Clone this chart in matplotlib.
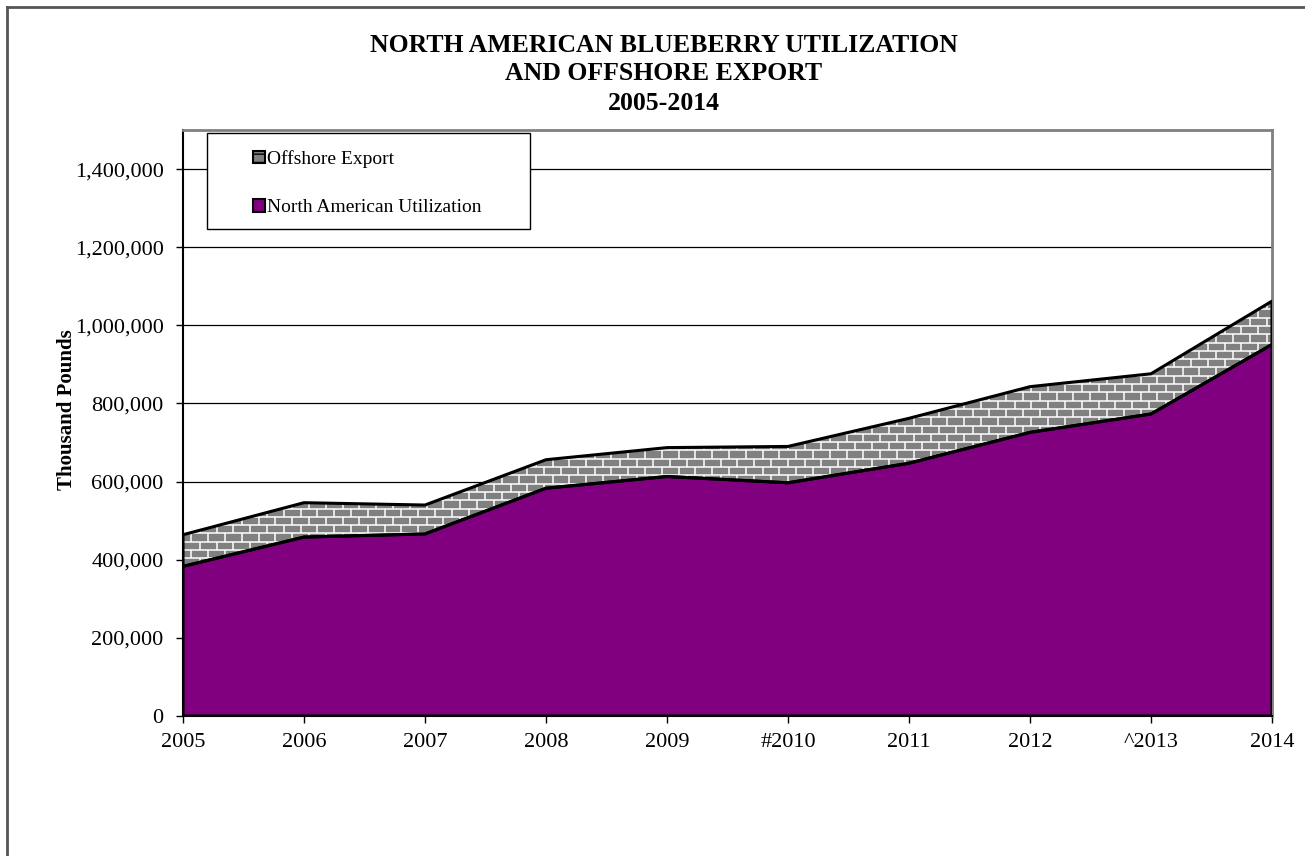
import numpy as np
import matplotlib
matplotlib.use('Agg')
import matplotlib.pyplot as plt
from matplotlib.collections import LineCollection
from matplotlib.lines import Line2D
from matplotlib.patches import Patch, Rectangle

# Data (thousand pounds)
years = ['2005', '2006', '2007', '2008', '2009', '#2010', '2011', '2012', '^2013', '2014']
na_utilization = [383000, 458000, 466000, 583000, 613000, 597000, 647000, 726000, 773000, 951000]
offshore_export = [81000, 88000, 74000, 73000, 74000, 93000, 115000, 117000, 103000, 111000]
y_ticks = [0, 200000, 400000, 600000, 800000, 1000000, 1200000, 1400000]
title_lines = ['NORTH AMERICAN BLUEBERRY UTILIZATION', 'AND OFFSHORE EXPORT', '2005-2014']

plt.rcParams['font.family'] = ['Liberation Serif', 'DejaVu Serif']

W, H = 1305, 856
fig = plt.figure(figsize=(W / 100, H / 100), dpi=100)
ax = fig.add_axes([183 / W, 1 - 716 / H, (1272 - 183) / W, (716 - 130) / H])
ax_w_px = 1272 - 183
ax_h_px = 716 - 130

x = np.arange(len(years))
na = np.array(na_utilization)
total = na + np.array(offshore_export)

purple = '#800080'
brick_grey = '#808080'

# North American utilization area
ax.fill_between(x, 0, na, facecolor=purple, edgecolor='none', zorder=2)

# Offshore export area with a brick pattern
band = ax.fill_between(x, na, total, facecolor=brick_grey, edgecolor='none', zorder=2)

row_h = 8.3 / ax_h_px
brick_w = 16.8 / ax_w_px
segs = []
n_rows = int(1 / row_h) + 2
for r in range(n_rows):
    y0 = r * row_h
    y1 = y0 + row_h
    segs.append([(0, y0), (1, y0)])
    off = 0 if r % 2 == 0 else brick_w / 2
    xv = off
    while xv <= 1:
        segs.append([(xv, y0), (xv, y1)])
        xv += brick_w
bricks = LineCollection(segs, colors='white', linewidths=1.1, transform=ax.transAxes, zorder=3)
bricks.set_clip_path(band.get_paths()[0], ax.transData)
ax.add_collection(bricks)

# outlines
ax.fill_between(x, 0, na, facecolor='none', edgecolor='black', linewidth=2.2, zorder=4)
ax.fill_between(x, na, total, facecolor='none', edgecolor='black', linewidth=2.2, zorder=4)

ax.set_xlim(0, len(years) - 1)
ax.set_ylim(0, 1500000)
ax.set_yticks(y_ticks)
ax.set_yticklabels([f'{v:,}' for v in y_ticks], fontsize=16)
ax.set_xticks(x)
ax.set_xticklabels(years, fontsize=16)
ax.tick_params(axis='both', direction='out', length=5, width=1, color='black')
ax.tick_params(axis='y', pad=9)
ax.tick_params(axis='x', pad=7)

ax.grid(axis='y', color='black', linewidth=0.9, zorder=1)
ax.set_axisbelow(True)

ax.spines['left'].set_color('black')
ax.spines['bottom'].set_color('black')
ax.spines['left'].set_linewidth(1.5)
ax.spines['bottom'].set_linewidth(1.5)
for s in ['top', 'right']:
    ax.spines[s].set_color('#808080')
    ax.spines[s].set_linewidth(2)

ax.set_ylabel('Thousand Pounds', fontsize=15, fontweight='bold')
ax.yaxis.set_label_coords((77 - 183) / ax_w_px, (716 - 410) / ax_h_px)

for i, line in enumerate(title_lines):
    fig.text(664 / W, 1 - (45 + 29 * i) / H, line, ha='center', va='center',
             fontsize=18.5, fontweight='bold')

# legend box
box = Rectangle(((207 - 183) / ax_w_px, (716 - 229) / ax_h_px), (530 - 207) / ax_w_px, (229 - 133) / ax_h_px,
                transform=ax.transAxes, facecolor='white', edgecolor='black', linewidth=1, zorder=5)
ax.add_patch(box)
handles = [Patch(facecolor=brick_grey, edgecolor='black', linewidth=1.5, hatch='--'),
           Patch(facecolor=purple, edgecolor='black', linewidth=1.5)]
leg = ax.legend(handles, ['Offshore Export', 'North American Utilization'],
                loc='upper left', bbox_to_anchor=((253 - 183) / ax_w_px, 1 - 20 / ax_h_px),
                fontsize=14, frameon=False, borderpad=0,
                labelspacing=1.6, handlelength=0.62, handleheight=0.62, handletextpad=0.12,
                borderaxespad=0)
leg.set_zorder(6)

# outer border of the chart
fig.add_artist(Line2D([7 / W, 1], [1 - 7 / H, 1 - 7 / H], color='#555555', linewidth=2, transform=fig.transFigure))
fig.add_artist(Line2D([7 / W, 7 / W], [0, 1 - 7 / H], color='#555555', linewidth=2, transform=fig.transFigure))

fig.savefig('out.png', dpi=100)
